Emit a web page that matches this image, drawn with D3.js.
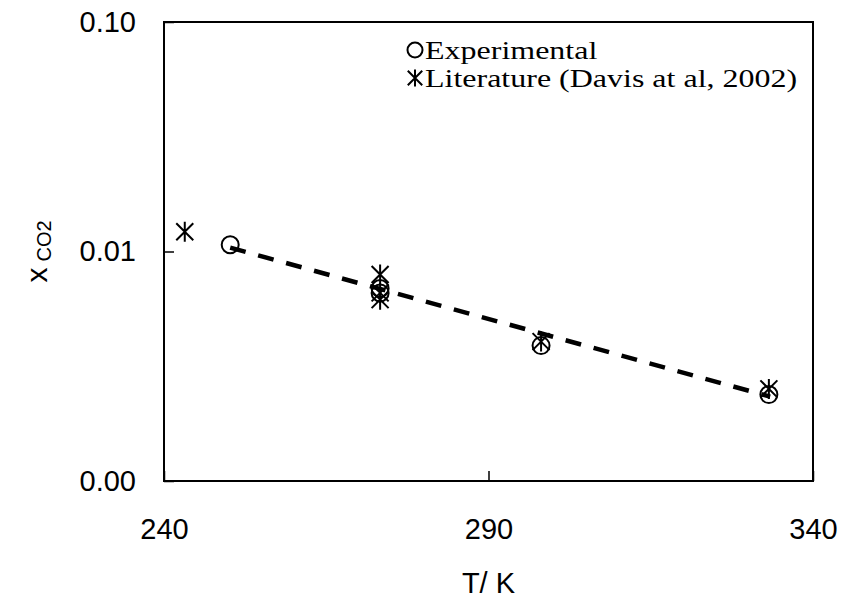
<!DOCTYPE html>
<html>
<head>
<meta charset="utf-8">
<script src="https://cdn.jsdelivr.net/npm/d3@7"></script>
<style>
  html, body { margin: 0; padding: 0; background: #fff; }
  svg { display: block; }
</style>
</head>
<body>
<svg id="chart" width="842" height="607"></svg>
<script>
// ---- data ----
const expT = [250.2, 273.3, 273.3, 298.1, 333.2];
const expX = [0.0107, 0.0069, 0.0066, 0.00389, 0.00238];
const litT = [243.2, 273.3, 273.3, 273.3, 298.1, 333.2];
const litX = [0.0122, 0.00794, 0.0066, 0.00617, 0.00405, 0.00252];
const fitT = [250.2, 333.4];
const fitX = [0.0104, 0.00233];
const xTicks = [240, 290, 340];
const yTicks = [0.001, 0.01, 0.1];
const legendLabels = ["Experimental", "Literature (Davis at al, 2002)"];

// ---- layout ----
const svg = d3.select("#chart");
const L = 164, R = 813, T = 22, B = 481;
const x = d3.scaleLinear().domain([240, 340]).range([L, R]);
const y = d3.scaleLog().domain([0.001, 0.1]).range([B, T]);

// frame
svg.append("rect").attr("x", L).attr("y", T).attr("width", R - L).attr("height", B - T)
  .attr("fill", "none").attr("stroke", "#000").attr("stroke-width", 2);

// axes
const ax = svg.append("g").attr("transform", `translate(0,${B})`)
  .call(d3.axisBottom(x).tickValues(xTicks).tickSize(-10).tickPadding(37).tickFormat(d3.format("d")));
const ay = svg.append("g").attr("transform", `translate(${L},0)`)
  .call(d3.axisLeft(y).tickValues(yTicks).tickSize(-10).tickPadding(28).tickFormat(d3.format(".2f")));
[ax, ay].forEach(g => {
  g.select(".domain").remove();
  g.selectAll(".tick line").attr("stroke", "#000").attr("stroke-width", 1.5);
  g.selectAll(".tick text").attr("font-family", "Liberation Sans, Arial, sans-serif")
    .attr("font-size", 29).attr("fill", "#000");
});

// axis titles
svg.append("text").attr("x", (L + R) / 2).attr("y", 593).attr("text-anchor", "middle")
  .attr("font-family", "Liberation Sans, Arial, sans-serif").attr("font-size", 29).text("T/ K");
const yt = svg.append("text").attr("transform", `translate(47,${(T + B) / 2}) rotate(-90)`)
  .attr("text-anchor", "middle").attr("font-family", "Liberation Sans, Arial, sans-serif").attr("font-size", 30);
yt.append("tspan").text("x");
yt.append("tspan").attr("font-size", 20).attr("dx", 6).attr("dy", 4).text("CO2");

// fit line
svg.append("path")
  .datum(fitT.map((t, i) => [t, fitX[i]]))
  .attr("d", d3.line().x(d => x(d[0])).y(d => y(d[1])))
  .attr("fill", "none").attr("stroke", "#000").attr("stroke-width", 4.5)
  .attr("stroke-dasharray", "16,13");

// markers
function star(g, cx, cy, s) {
  const p = `M${cx},${cy - s}L${cx},${cy + s}` +
    `M${cx - s * 0.85},${cy - s * 0.85}L${cx + s * 0.85},${cy + s * 0.85}` +
    `M${cx - s * 0.85},${cy + s * 0.85}L${cx + s * 0.85},${cy - s * 0.85}`;
  g.append("path").attr("d", p).attr("stroke", "#000").attr("stroke-width", 2).attr("fill", "none");
}
const gE = svg.append("g");
gE.selectAll("circle").data(expT.map((t, i) => [t, expX[i]])).join("circle")
  .attr("cx", d => x(d[0])).attr("cy", d => y(d[1])).attr("r", 8.5)
  .attr("fill", "none").attr("stroke", "#000").attr("stroke-width", 2);
const gL = svg.append("g");
litT.forEach((t, i) => star(gL, x(t), y(litX[i]), 10));

// legend
const lg = svg.append("g");
lg.append("circle").attr("cx", 415).attr("cy", 50).attr("r", 7.5)
  .attr("fill", "none").attr("stroke", "#000").attr("stroke-width", 2);
star(lg, 415, 78, 8.5);
lg.selectAll("text").data(legendLabels).join("text")
  .attr("transform", (d, i) => `translate(425,${50 + i * 28}) scale(1.28,1)`)
  .attr("dy", "0.35em")
  .attr("font-family", "Liberation Serif, Times New Roman, serif").attr("font-size", 25)
  .text(d => d);
</script>
</body>
</html>
